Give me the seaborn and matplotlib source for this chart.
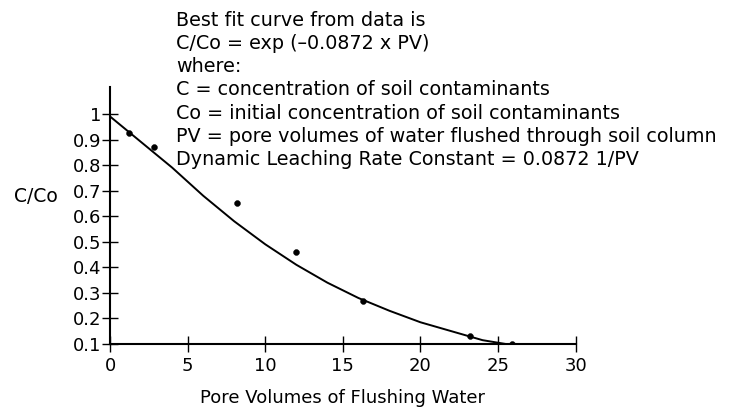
import numpy as np
import pandas as pd
import matplotlib
matplotlib.use("Agg")
import matplotlib.pyplot as plt
import seaborn as sns

# measured data points (pore volumes, C/Co)
pv_points = [1.2, 2.8, 8.2, 12.0, 16.3, 23.2, 25.9]
c_points = [0.925, 0.87, 0.65, 0.46, 0.27, 0.133, 0.10]

# best fit curve as drawn
pv_curve = [0, 2, 4, 6, 8, 10, 12, 14, 16, 18, 20, 22, 24, 25.5]
c_curve = [0.99, 0.89, 0.79, 0.68, 0.58, 0.49, 0.41, 0.34, 0.28, 0.23, 0.185, 0.15, 0.115, 0.10]

x_ticks = [0, 5, 10, 15, 20, 25, 30]
y_ticks = [0.1, 0.2, 0.3, 0.4, 0.5, 0.6, 0.7, 0.8, 0.9, 1.0]
y_tick_labels = ["0.1", "0.2", "0.3", "0.4", "0.5", "0.6", "0.7", "0.8", "0.9", "1"]

notes = [
    "Best fit curve from data is",
    "C/Co = exp (\u20130.0872 x PV)",
    "where:",
    "C = concentration of soil contaminants",
    "Co = initial concentration of soil contaminants",
    "PV = pore volumes of water flushed through soil column",
    "Dynamic Leaching Rate Constant = 0.0872 1/PV",
]

sns.set_style("ticks")
plt.rcParams["font.family"] = ["DejaVu Sans"]
plt.rcParams["text.color"] = "black"
plt.rcParams["axes.labelcolor"] = "black"

fig = plt.figure(figsize=(7.39, 4.11), dpi=100)
ax = fig.add_axes([0.149, 0.163, 0.630, 0.625])

curve = pd.DataFrame({"pv": pv_curve, "c": c_curve})
pts = pd.DataFrame({"pv": pv_points, "c": c_points})
sns.lineplot(data=curve, x="pv", y="c", color="black", linewidth=1.4, ax=ax)
sns.scatterplot(data=pts, x="pv", y="c", color="black", s=18, edgecolor="black", ax=ax, zorder=3)

ax.set_xlim(0, 30)
ax.set_ylim(0.1, 1.105)
ax.set_xticks(x_ticks)
ax.set_yticks(y_ticks)
ax.set_yticklabels(y_tick_labels)
sns.despine(ax=ax)
for s in ["left", "bottom"]:
    ax.spines[s].set_linewidth(1.5)
    ax.spines[s].set_color("black")
ax.tick_params(axis="both", direction="inout", length=11, width=1, colors="black",
               labelcolor="black", labelsize=13)
ax.tick_params(axis="x", pad=4)
ax.tick_params(axis="y", pad=1)

ax.set_xlabel("Pore Volumes of Flushing Water", fontsize=13, color="black")
ax.xaxis.set_label_coords(0.5, -0.175)
ax.set_ylabel("C/Co", fontsize=13.5, rotation=0, ha="center", va="center", color="black")
ax.yaxis.set_label_coords(-0.16, 0.575)

for i, line in enumerate(notes):
    fig.text(0.238, 1 - (20 + i * 23.3) / 411, line, fontsize=13.8, ha="left", va="center",
             color="black")

fig.savefig("out.png", dpi=100)
